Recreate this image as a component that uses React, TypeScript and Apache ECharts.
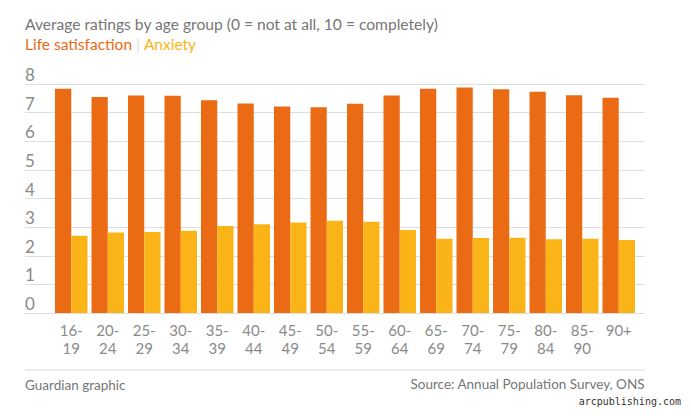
import React, { useEffect, useRef } from "react";
import * as echarts from "echarts";

const categories = ["16-\n19", "20-\n24", "25-\n29", "30-\n34", "35-\n39", "40-\n44", "45-\n49", "50-\n54", "55-\n59", "60-\n64", "65-\n69", "70-\n74", "75-\n79", "80-\n84", "85-\n90", "90+"];
const lifeSatisfaction = [7.83, 7.55, 7.6, 7.59, 7.43, 7.32, 7.21, 7.19, 7.31, 7.6, 7.83, 7.88, 7.82, 7.73, 7.61, 7.52];
const anxiety = [2.7, 2.81, 2.83, 2.87, 3.04, 3.1, 3.16, 3.22, 3.19, 2.9, 2.59, 2.62, 2.63, 2.58, 2.59, 2.55];
const yTicks = [0, 1, 2, 3, 4, 5, 6, 7, 8];

const FONT = "Lato";
const ORANGE = "#eb6a14";
const YELLOW = "#fbb418";
const GRAY = "#8a8a8a";

export default function App() {
  const ref = useRef<HTMLDivElement>(null);
  useEffect(() => {
    document.body.style.margin = "0";
    const chart = echarts.init(ref.current!, null, { renderer: "svg" });
    const top = 84;
    const bottom = 103;
    chart.setOption({
      animation: false,
      backgroundColor: "#ffffff",
      textStyle: { fontFamily: FONT },
      grid: [
        { left: 25, right: 46, top, bottom, containLabel: false },
        { left: 53, right: 54, top, bottom, containLabel: false },
      ],
      xAxis: [
        { type: "value", gridIndex: 0, show: false, min: 0, max: 1 },
        {
          type: "category",
          gridIndex: 1,
          data: categories,
          axisLine: { show: false },
          axisTick: { show: false },
          axisLabel: {
            color: GRAY,
            fontSize: 15,
            lineHeight: 18,
            margin: 8,
            fontFamily: FONT,
            interval: 0,
          },
        },
      ],
      yAxis: [
        {
          type: "value",
          gridIndex: 0,
          min: yTicks[0],
          max: yTicks[yTicks.length - 1],
          interval: 1,
          axisLine: { show: false },
          axisTick: { show: false },
          splitLine: { show: true, lineStyle: { color: "#dedede", width: 1 } },
          axisLabel: {
            inside: true,
            margin: 0,
            align: "left",
            verticalAlign: "bottom",
            padding: [0, 0, 1, 0],
            color: GRAY,
            fontSize: 17,
            fontFamily: FONT,
          },
        },
        {
          type: "value",
          gridIndex: 1,
          min: yTicks[0],
          max: yTicks[yTicks.length - 1],
          interval: 1,
          show: false,
          splitLine: { show: false },
        },
      ],
      series: [
        {
          name: "Life satisfaction",
          type: "bar",
          xAxisIndex: 1,
          yAxisIndex: 1,
          data: lifeSatisfaction,
          itemStyle: { color: ORANGE },
          barGap: "0%",
          barCategoryGap: "11%",
        },
        {
          name: "Anxiety",
          type: "bar",
          xAxisIndex: 1,
          yAxisIndex: 1,
          data: anxiety,
          itemStyle: { color: YELLOW },
          barGap: "0%",
          barCategoryGap: "11%",
        },
      ],
      graphic: [
        {
          type: "text",
          left: 25,
          top: 16,
          style: {
            text: "Average ratings by age group (0 = not at all, 10 = completely)",
            fill: "#767676",
            fontSize: 15.6,
            fontFamily: FONT,
          },
        },
        {
          type: "text",
          left: 25,
          top: 36,
          style: {
            text: "{a|Life satisfaction} {b||} {c|Anxiety}",
            fontSize: 15.5,
            fontFamily: FONT,
            rich: {
              a: { fill: ORANGE, fontSize: 15.5, fontFamily: FONT },
              b: { fill: "#dcdcdc", fontSize: 15.5, fontFamily: FONT },
              c: { fill: YELLOW, fontSize: 15.5, fontFamily: FONT },
            },
          },
        },
        {
          type: "line",
          shape: { x1: 25, y1: 370, x2: 645, y2: 370 },
          style: { stroke: "#ececec", lineWidth: 2 },
        },
        {
          type: "text",
          left: 25,
          top: 378,
          style: { text: "Guardian graphic", fill: "#767676", fontSize: 13.5, fontFamily: FONT },
        },
        {
          type: "text",
          right: 46,
          top: 377,
          style: { text: "Source: Annual Population Survey, ONS", fill: "#767676", fontSize: 13.5, fontFamily: FONT },
        },
        {
          type: "text",
          right: 10,
          top: 396,
          style: { text: "arcpublishing.com", fill: "#333333", fontSize: 10, fontFamily: "DejaVu Sans Mono" },
        },
      ],
    });
    return () => chart.dispose();
  }, []);
  return <div ref={ref} style={{ width: 691, height: 416 }} />;
}
